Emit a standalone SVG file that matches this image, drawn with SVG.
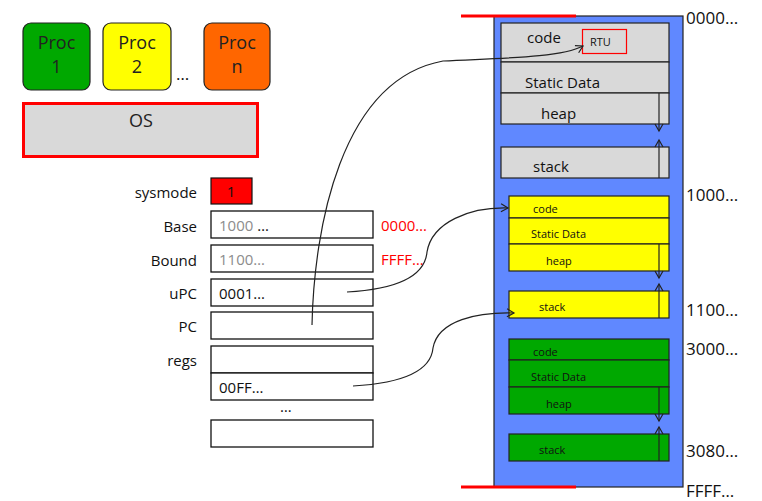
<svg xmlns="http://www.w3.org/2000/svg" width="762" height="501" viewBox="0 0 762 501">
<style>
text{font-family:"Open Sans","Liberation Sans",sans-serif;fill:#111}
.p{font-size:18px;text-anchor:middle;fill:#222}
.lbl{font-size:15px;text-anchor:end}
.v{font-size:15px}
.reg{fill:#fff;stroke:#111;stroke-width:1.3}
.g{fill:#d9d9d9;stroke:#222;stroke-width:1.2}
.y{fill:#ffff00;stroke:#222;stroke-width:1.2}
.gr{fill:#00a800;stroke:#222;stroke-width:1.2}
.big{font-size:15px}
.sm{font-size:11px}
.addr{font-size:17px}
.con{fill:none;stroke:#222;stroke-width:1.2}
</style>
<defs>
<marker id="ar" markerWidth="10" markerHeight="10" refX="8" refY="5" orient="auto" markerUnits="userSpaceOnUse">
<path d="M1,1 L8,5 L1,9" fill="none" stroke="#222" stroke-width="1.2"/>
</marker>
</defs>
<rect width="762" height="501" fill="#fff"/>

<g id="proc1"><rect x="23" y="23" width="67" height="67" rx="8" fill="#00a800" stroke="#222" stroke-width="1.2"/><text class="p" x="56.5" y="49">Proc</text><text class="p" x="56.5" y="73">1</text></g>
<g id="proc2"><rect x="103" y="23" width="68" height="67" rx="8" fill="#ffff00" stroke="#222" stroke-width="1.2"/><text class="p" x="137" y="49">Proc</text><text class="p" x="137" y="73">2</text></g>
<text x="176" y="80" style="font-size:17px">…</text>
<g id="procn"><rect x="204" y="23" width="66" height="67" rx="8" fill="#ff6600" stroke="#222" stroke-width="1.2"/><text class="p" x="237" y="49">Proc</text><text class="p" x="237" y="73">n</text></g>
<g id="os"><rect x="23.5" y="103.5" width="234" height="53" fill="#d9d9d9" stroke="#ff0000" stroke-width="3"/><text class="p" x="141" y="127">OS</text></g>

<g id="sysmode"><text class="lbl" x="197" y="198">sysmode</text><rect x="211" y="178" width="41" height="26" fill="#ff0000" stroke="#111" stroke-width="1.2"/><text class="v" x="231" y="197" text-anchor="middle">1</text></g>
<g id="base"><text class="lbl" x="197" y="232">Base</text><rect class="reg" x="211" y="211" width="162" height="27"/><text class="v" x="219" y="231"><tspan fill="#8c8c8c">1000</tspan> …</text><text class="v" x="381" y="231" style="fill:#ff0000">0000…</text></g>
<g id="bound"><text class="lbl" x="197" y="266">Bound</text><rect class="reg" x="211" y="245" width="162" height="27"/><text class="v" x="219" y="265" style="fill:#8c8c8c">1100…</text><text class="v" x="381" y="265" style="fill:#ff0000">FFFF…</text></g>
<g id="upc"><text class="lbl" x="197" y="299">uPC</text><rect class="reg" x="211" y="279" width="162" height="27"/><text class="v" x="219" y="299">0001…</text></g>
<g id="pc"><text class="lbl" x="197" y="332">PC</text><rect class="reg" x="211" y="312" width="162" height="27"/></g>
<g id="regs"><text class="lbl" x="197" y="366">regs</text><rect class="reg" x="211" y="346" width="162" height="27"/><rect class="reg" x="211" y="373" width="162" height="27"/><text class="v" x="219" y="393">00FF…</text><text class="v" x="280" y="412">…</text><rect class="reg" x="211" y="420" width="162" height="27"/></g>

<g id="memory">
<rect x="494" y="16" width="189" height="471" fill="#6088ff" stroke="#222" stroke-width="1.2"/>
<line x1="461" y1="16" x2="576" y2="16" stroke="#ff0000" stroke-width="3"/>
<line x1="461" y1="487" x2="576" y2="487" stroke="#ff0000" stroke-width="3"/>
<text class="addr" x="686" y="24">0000…</text>
<text class="addr" x="686" y="201">1000…</text>
<text class="addr" x="686" y="316">1100…</text>
<text class="addr" x="686" y="355">3000…</text>
<text class="addr" x="686" y="457">3080…</text>
<text class="addr" x="686" y="497">FFFF…</text>
</g>

<g id="os-image">
<rect class="g" x="501" y="23" width="168" height="39"/>
<rect class="g" x="501" y="62" width="168" height="31"/>
<rect class="g" x="501" y="93" width="168" height="31"/>
<rect class="g" x="501" y="147" width="168" height="31"/>
<text class="big" x="527" y="43">code</text>
<text class="big" x="525" y="88">Static Data</text>
<text class="big" x="541" y="119">heap</text>
<text class="big" x="533" y="172">stack</text>
<g id="rtu"><rect x="582.5" y="29.5" width="44" height="24" fill="none" stroke="#ff0000" stroke-width="1.2"/><text x="590" y="46" style="font-size:11px">RTU</text></g>
<line class="con" x1="659" y1="93" x2="659" y2="131" marker-end="url(#ar)"/>
<line class="con" x1="659" y1="178" x2="659" y2="140" marker-end="url(#ar)"/>
</g>

<g id="proc2-image">
<rect class="y" x="509" y="196" width="160" height="22"/>
<rect class="y" x="509" y="218" width="160" height="26"/>
<rect class="y" x="509" y="244" width="160" height="27"/>
<rect class="y" x="509" y="291" width="160" height="27"/>
<text class="sm" x="533" y="213">code</text>
<text class="sm" x="531" y="238">Static Data</text>
<text class="sm" x="546" y="265">heap</text>
<text class="sm" x="539" y="311">stack</text>
<line class="con" x1="659" y1="244" x2="659" y2="278" marker-end="url(#ar)"/>
<line class="con" x1="659" y1="318" x2="659" y2="284" marker-end="url(#ar)"/>
</g>

<g id="proc1-image">
<rect class="gr" x="509" y="339" width="160" height="21"/>
<rect class="gr" x="509" y="360" width="160" height="27"/>
<rect class="gr" x="509" y="387" width="160" height="27"/>
<rect class="gr" x="509" y="434" width="160" height="27"/>
<text class="sm" x="533" y="356">code</text>
<text class="sm" x="531" y="381">Static Data</text>
<text class="sm" x="546" y="408">heap</text>
<text class="sm" x="539" y="454">stack</text>
<line class="con" x1="659" y1="387" x2="659" y2="421" marker-end="url(#ar)"/>
<line class="con" x1="659" y1="461" x2="659" y2="427" marker-end="url(#ar)"/>
</g>

<g id="connectors">
<path class="con" d="M312,325 C314,230 340,80 443,61 C500,58 560,58 583,46" marker-end="url(#ar)"/>
<path class="con" d="M347,292 C400,289 425,275 427,252 C432,222 470,207 508,208" marker-end="url(#ar)"/>
<path class="con" d="M353,386 C405,383 431,370 433,348 C438,320 478,312 514,313" marker-end="url(#ar)"/>
</g>
</svg>
